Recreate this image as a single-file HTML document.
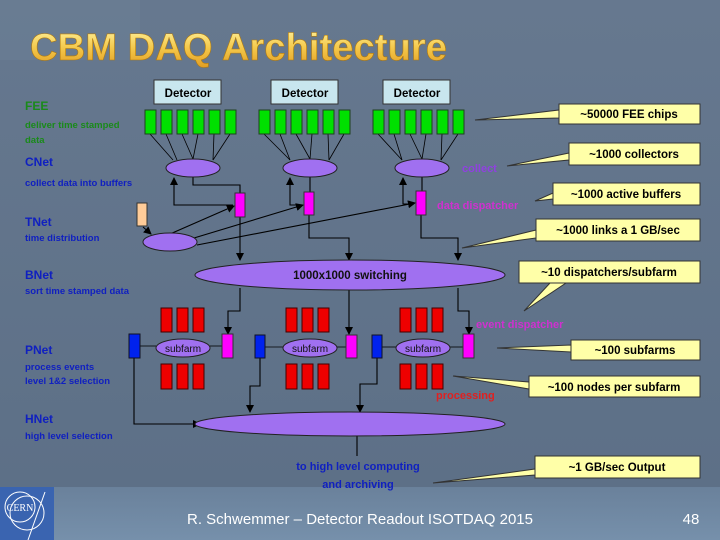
<!DOCTYPE html>
<html><head><meta charset="utf-8"><style>
html,body{margin:0;padding:0;}
body{width:720px;height:540px;overflow:hidden;background:#5f7289;}
svg{display:block;font-family:"Liberation Sans",sans-serif;}
</style></head><body>
<svg width="720" height="540" viewBox="0 0 720 540" xmlns="http://www.w3.org/2000/svg">
<defs>
<linearGradient id="bg" x1="0" y1="0" x2="0" y2="1">
<stop offset="0" stop-color="#66788f"/><stop offset="1" stop-color="#5c6f86"/></linearGradient>
<linearGradient id="gold" x1="0" y1="0" x2="0" y2="1">
<stop offset="0" stop-color="#fff3a0"/><stop offset="0.5" stop-color="#f4c84a"/><stop offset="1" stop-color="#e09a20"/></linearGradient>
<linearGradient id="foot" x1="0" y1="0" x2="0" y2="1">
<stop offset="0" stop-color="#6a819b"/><stop offset="1" stop-color="#7690ab"/></linearGradient>
<marker id="ar" markerWidth="8" markerHeight="8" refX="7" refY="4" orient="auto" markerUnits="userSpaceOnUse">
<path d="M0,0 L8,4 L0,8 z" fill="#000"/></marker>
</defs>
<rect width="720" height="540" fill="url(#bg)"/>
<rect x="0" y="0" width="140" height="60" fill="#6b7e95" opacity="0.6"/>
<rect x="0" y="487" width="720" height="53" fill="url(#foot)"/>

<text x="30" y="60" font-size="38" font-weight="bold" fill="url(#gold)" stroke="#b07a10" stroke-width="0.6" textLength="417" lengthAdjust="spacingAndGlyphs">CBM DAQ Architecture</text>

<!-- left labels -->
<g font-weight="bold" font-size="12">
<text x="25" y="110" fill="#1a8a1a">FEE</text>
<text x="25" y="166" fill="#1020c0">CNet</text>
<text x="25" y="226" fill="#1020c0">TNet</text>
<text x="25" y="279" fill="#1020c0">BNet</text>
<text x="25" y="354" fill="#1020c0">PNet</text>
<text x="25" y="423" fill="#1020c0">HNet</text>
</g>
<g font-weight="bold" font-size="9.5">
<text x="25" y="128" fill="#1a8a1a">deliver time stamped</text>
<text x="25" y="143" fill="#1a8a1a">data</text>
<text x="25" y="186" fill="#1020c0">collect data into buffers</text>
<text x="25" y="241" fill="#1020c0">time distribution</text>
<text x="25" y="294" fill="#1020c0">sort time stamped data</text>
<text x="25" y="370" fill="#1020c0">process events</text>
<text x="25" y="384" fill="#1020c0">level 1&amp;2 selection</text>
<text x="25" y="439" fill="#1020c0">high level selection</text>
</g>

<!-- detectors -->
<g fill="#c8e6ee" stroke="#333" stroke-width="1">
<rect x="154" y="80" width="67" height="24"/><rect x="271" y="80" width="67" height="24"/><rect x="383" y="80" width="67" height="24"/>
</g>
<g font-weight="bold" font-size="11.5" fill="#000" text-anchor="middle">
<text x="188" y="97">Detector</text><text x="305" y="97">Detector</text><text x="417" y="97">Detector</text>
</g>

<!-- fan lines -->
<g stroke="#000" stroke-width="0.8">
<line x1="150" y1="134" x2="173" y2="160"/><line x1="166" y1="134" x2="177" y2="160"/><line x1="182" y1="134" x2="193" y2="159"/><line x1="198" y1="134" x2="193" y2="159"/><line x1="214" y1="134" x2="213" y2="160"/><line x1="230" y1="134" x2="213" y2="160"/>
<line x1="264" y1="134" x2="290" y2="160"/><line x1="280" y1="134" x2="290" y2="160"/><line x1="296" y1="134" x2="310" y2="159"/><line x1="312" y1="134" x2="310" y2="159"/><line x1="328" y1="134" x2="329" y2="160"/><line x1="344" y1="134" x2="329" y2="160"/>
<line x1="378" y1="134" x2="402" y2="160"/><line x1="394" y1="134" x2="402" y2="160"/><line x1="410" y1="134" x2="422" y2="159"/><line x1="426" y1="134" x2="422" y2="159"/><line x1="442" y1="134" x2="441" y2="160"/><line x1="458" y1="134" x2="441" y2="160"/>
</g>
<!-- green chips -->
<g fill="#00e000" stroke="#204020" stroke-width="1">
<rect x="145" y="110" width="11" height="24"/><rect x="161" y="110" width="11" height="24"/><rect x="177" y="110" width="11" height="24"/><rect x="193" y="110" width="11" height="24"/><rect x="209" y="110" width="11" height="24"/><rect x="225" y="110" width="11" height="24"/>
<rect x="259" y="110" width="11" height="24"/><rect x="275" y="110" width="11" height="24"/><rect x="291" y="110" width="11" height="24"/><rect x="307" y="110" width="11" height="24"/><rect x="323" y="110" width="11" height="24"/><rect x="339" y="110" width="11" height="24"/>
<rect x="373" y="110" width="11" height="24"/><rect x="389" y="110" width="11" height="24"/><rect x="405" y="110" width="11" height="24"/><rect x="421" y="110" width="11" height="24"/><rect x="437" y="110" width="11" height="24"/><rect x="453" y="110" width="11" height="24"/>
</g>

<!-- connector lines -->
<g stroke="#000" stroke-width="1.1" fill="none">
<polyline points="193,177 193,185 240,185 240,193"/>
<polyline points="233,205 174,205 174,178" marker-end="url(#ar)"/>
<polyline points="302,205 290,205 290,178" marker-end="url(#ar)"/>
<polyline points="414,204 403,204 403,178" marker-end="url(#ar)"/>
<line x1="310" y1="177" x2="310" y2="192"/>
<line x1="422" y1="177" x2="422" y2="191"/>
<line x1="170" y1="234" x2="234" y2="206" marker-end="url(#ar)"/>
<line x1="194" y1="238" x2="303" y2="205" marker-end="url(#ar)"/>
<line x1="197" y1="245" x2="415" y2="203" marker-end="url(#ar)"/>
<line x1="143" y1="227" x2="151" y2="234" marker-end="url(#ar)"/>
<polyline points="240,217 240,260" marker-end="url(#ar)"/>
<polyline points="309,215 309,238 349,238 349,260" marker-end="url(#ar)"/>
<polyline points="421,215 421,238 458,238 458,260" marker-end="url(#ar)"/>
<polyline points="240,288 240,311 228,311 228,334" marker-end="url(#ar)"/>
<polyline points="349,290 349,334" marker-end="url(#ar)"/>
<polyline points="458,288 458,311 469,311 469,334" marker-end="url(#ar)"/>
<polyline points="134,358 134,424 200,424" marker-end="url(#ar)"/>
<polyline points="260,358 260,386 250,386 250,412" marker-end="url(#ar)"/>
<polyline points="377,358 377,384 360,384 360,412" marker-end="url(#ar)"/>
<line x1="357" y1="436" x2="357" y2="456"/>
<!-- subfarm thin -->
<g stroke-width="0.8">
<line x1="140" y1="346" x2="156" y2="346"/><line x1="210" y1="346" x2="222" y2="346"/>
<line x1="265" y1="347" x2="283" y2="347"/><line x1="337" y1="347" x2="346" y2="347"/>
<line x1="382" y1="347" x2="396" y2="347"/><line x1="450" y1="347" x2="463" y2="347"/>
</g>
</g>

<!-- ellipses -->
<g fill="#a070f0" stroke="#222" stroke-width="1">
<ellipse cx="193" cy="168" rx="27" ry="9"/><ellipse cx="310" cy="168" rx="27" ry="9"/><ellipse cx="422" cy="168" rx="27" ry="9"/>
<ellipse cx="170" cy="242" rx="27" ry="9"/>
<ellipse cx="350" cy="275" rx="155" ry="15"/>
<ellipse cx="350" cy="424" rx="155" ry="12"/>
<ellipse cx="183" cy="348" rx="27" ry="9"/><ellipse cx="310" cy="348" rx="27" ry="9"/><ellipse cx="423" cy="348" rx="27" ry="9"/>
</g>
<text x="350" y="279" font-size="11.5" font-weight="bold" text-anchor="middle" fill="#111">1000x1000 switching</text>
<g font-size="10" text-anchor="middle" fill="#111">
<text x="183" y="352">subfarm</text><text x="310" y="352">subfarm</text><text x="423" y="352">subfarm</text>
</g>

<!-- buffers -->
<g fill="#ff00ff" stroke="#333" stroke-width="1">
<rect x="235" y="193" width="10" height="24"/><rect x="304" y="192" width="10" height="23"/><rect x="416" y="191" width="10" height="24"/>
<rect x="222" y="334" width="11" height="24"/><rect x="346" y="335" width="11" height="23"/><rect x="463" y="334" width="11" height="24"/>
</g>
<rect x="137" y="203" width="10" height="23" fill="#ffcc99" stroke="#333"/>
<g fill="#0022ee" stroke="#112" stroke-width="1">
<rect x="129" y="334" width="11" height="24"/><rect x="255" y="335" width="10" height="23"/><rect x="372" y="335" width="10" height="23"/>
</g>
<!-- red nodes -->
<g fill="#ee0000" stroke="#400" stroke-width="1">
<rect x="161" y="308" width="11" height="24"/><rect x="177" y="308" width="11" height="24"/><rect x="193" y="308" width="11" height="24"/>
<rect x="161" y="364" width="11" height="25"/><rect x="177" y="364" width="11" height="25"/><rect x="193" y="364" width="11" height="25"/>
<rect x="286" y="308" width="11" height="24"/><rect x="302" y="308" width="11" height="24"/><rect x="318" y="308" width="11" height="24"/>
<rect x="286" y="364" width="11" height="25"/><rect x="302" y="364" width="11" height="25"/><rect x="318" y="364" width="11" height="25"/>
<rect x="400" y="308" width="11" height="24"/><rect x="416" y="308" width="11" height="24"/><rect x="432" y="308" width="11" height="24"/>
<rect x="400" y="364" width="11" height="25"/><rect x="416" y="364" width="11" height="25"/><rect x="432" y="364" width="11" height="25"/>
</g>

<!-- small labels -->
<g font-weight="bold" font-size="11">
<text x="462" y="172" fill="#9040e0">collect</text>
<text x="437" y="209" fill="#d030d0">data dispatcher</text>
<text x="476" y="328" fill="#d030d0">event dispatcher</text>
<text x="436" y="399" fill="#e02020">processing</text>
<text x="358" y="470" fill="#1020c0" text-anchor="middle">to high level computing</text>
<text x="358" y="488" fill="#1020c0" text-anchor="middle">and archiving</text>
</g>

<!-- callouts -->
<g fill="#ffffa8" stroke="#333" stroke-width="1">
<polygon points="475,120 559,110 559,118"/><rect x="559" y="104" width="141" height="20"/>
<polygon points="507,166 569,153 569,160"/><rect x="569" y="143" width="131" height="22"/>
<polygon points="535,201 553,193 553,199"/><rect x="553" y="183" width="147" height="22"/>
<polygon points="462,248 536,230 536,238"/><rect x="536" y="219" width="164" height="22"/>
<polygon points="524,311 550,283 566,283"/><rect x="519" y="261" width="181" height="22"/>
<polygon points="497,348 571,345 571,352"/><rect x="571" y="340" width="129" height="20"/>
<polygon points="453,376 529,382 529,389"/><rect x="529" y="376" width="171" height="21"/>
<polygon points="433,483 535,469 535,475"/><rect x="535" y="456" width="165" height="22"/>
</g>
<g font-weight="bold" font-size="11.5" fill="#000" text-anchor="middle">
<text x="629" y="118">~50000 FEE chips</text>
<text x="634" y="158">~1000 collectors</text>
<text x="626" y="198">~1000 active buffers</text>
<text x="618" y="234">~1000 links a 1 GB/sec</text>
<text x="609" y="276">~10 dispatchers/subfarm</text>
<text x="635" y="354">~100 subfarms</text>
<text x="614" y="391">~100 nodes per subfarm</text>
<text x="617" y="471">~1 GB/sec Output</text>
</g>

<!-- footer -->
<rect x="0" y="487" width="54" height="53" fill="#3a64b0"/>
<g stroke="#fff" stroke-width="1" fill="none">
<circle cx="20" cy="507" r="15"/><circle cx="27" cy="513" r="17"/>
<line x1="45" y1="492" x2="28" y2="540"/>
</g>
<text x="20" y="511" font-size="10" fill="#fff" text-anchor="middle" font-family="Liberation Serif,serif">CERN</text>
<text x="360" y="524" font-size="15" fill="#fff" text-anchor="middle">R. Schwemmer – Detector Readout ISOTDAQ 2015</text>
<text x="691" y="524" font-size="15" fill="#fff" text-anchor="middle">48</text>
</svg>
</body></html>
